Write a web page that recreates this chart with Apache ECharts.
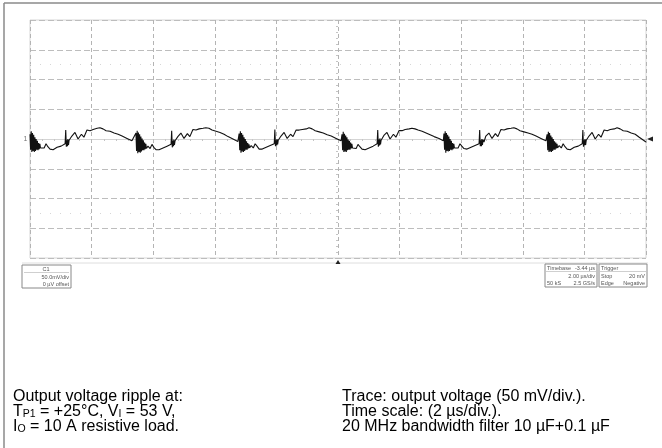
<!DOCTYPE html>
<html><head><meta charset="utf-8">
<script src="https://cdn.jsdelivr.net/npm/echarts@6/dist/echarts.min.js"></script>
<style>html,body{margin:0;padding:0;background:#fff}#c{width:662px;height:448px}</style>
</head><body><div id="c"></div>
<script>
// Axis settings: time (µs) and voltage (mV)
const xRange = [0, 20];          // 10 div x 2 µs/div
const xStep = 2;
const yRange = [-200, 200];      // 8 div x 50 mV/div
const yStep = 50;

// Trace, one switching cycle per array (time µs, voltage mV)
const c1t = [0.00,0.02,0.04,0.06,0.08,0.10,0.12,0.14,0.16,0.18,0.20,0.22,0.24,0.26,0.28,0.30,0.32,0.34,0.39,0.46,0.52,0.58,0.65,0.75,0.88,1.01,1.14,1.16,1.18,1.20,1.22,1.23,1.25,1.27,1.30,1.36,1.46,1.56,1.67,1.75,1.85,1.95,2.05,2.18,2.27,2.37,2.47,2.60,2.73,2.86,2.99,3.15,3.31];
const c1v = [8,-18,13,-22,10,-20,7,-22,3,-20,0,-18,-3,-19,-7,-17,-8,-15,-12,-15,-8,-13,-17,-18,-14,-12,-8,15,-13,-2,-12,0,-10,-2,-5,5,11,0,8,3,15,14,16,18,19,17,14,13,10,8,5,1,-3];

const c2t = [3.44,3.46,3.48,3.50,3.52,3.54,3.56,3.58,3.60,3.62,3.64,3.66,3.68,3.70,3.72,3.74,3.76,3.78,3.83,3.90,3.96,4.02,4.09,4.19,4.32,4.45,4.58,4.60,4.62,4.64,4.66,4.67,4.69,4.71,4.74,4.80,4.90,5.00,5.11,5.19,5.29,5.39,5.49,5.62,5.71,5.81,5.91,6.04,6.17,6.30,6.43,6.59,6.75];
const c2v = [10,-20,14,-24,11,-22,8,-23,4,-21,1,-19,-2,-19,-6,-17,-8,-16,-12,-16,-9,-14,-18,-18,-15,-12,-9,14,-14,-3,-12,-1,-10,-3,-5,4,10,1,9,4,16,15,17,18,19,18,15,13,11,8,4,0,-4];

const c3t = [6.79,6.81,6.83,6.85,6.87,6.89,6.91,6.93,6.95,6.97,6.99,7.01,7.03,7.05,7.07,7.09,7.11,7.13,7.18,7.25,7.31,7.37,7.44,7.54,7.67,7.80,7.93,7.95,7.97,7.99,8.01,8.02,8.04,8.06,8.09,8.15,8.25,8.35,8.46,8.54,8.64,8.74,8.84,8.97,9.06,9.16,9.26,9.39,9.52,9.65,9.78,9.94,10.10];
const c3v = [9,-19,13,-23,10,-21,7,-22,3,-20,0,-18,-4,-18,-7,-16,-9,-15,-11,-15,-8,-12,-17,-17,-14,-11,-8,16,-12,-2,-11,0,-9,-2,-4,5,11,1,8,4,15,15,16,17,19,17,14,12,10,7,5,1,-3];

const c4t = [10.13,10.15,10.17,10.19,10.21,10.23,10.25,10.27,10.29,10.31,10.33,10.35,10.37,10.39,10.41,10.43,10.45,10.47,10.52,10.59,10.65,10.71,10.78,10.88,11.01,11.14,11.27,11.29,11.31,11.33,11.35,11.36,11.38,11.40,11.43,11.49,11.59,11.69,11.80,11.88,11.98,12.08,12.18,12.31,12.40,12.50,12.60,12.73,12.86,12.99,13.12,13.28,13.42];
const c4v = [8,-19,12,-22,9,-21,6,-22,3,-19,-1,-18,-3,-18,-6,-16,-8,-15,-12,-16,-9,-13,-17,-18,-15,-12,-8,15,-13,-1,-11,1,-9,-2,-4,6,11,0,8,3,14,14,16,17,18,17,15,13,10,7,4,1,-3];

const c5t = [13.44,13.46,13.48,13.50,13.52,13.54,13.56,13.58,13.60,13.62,13.64,13.66,13.68,13.70,13.72,13.74,13.76,13.78,13.83,13.90,13.96,14.02,14.09,14.19,14.32,14.45,14.58,14.60,14.62,14.64,14.66,14.67,14.69,14.71,14.74,14.80,14.90,15.00,15.11,15.19,15.29,15.39,15.49,15.62,15.71,15.81,15.91,16.04,16.17,16.30,16.43,16.59,16.75];
const c5v = [9,-18,13,-23,10,-20,7,-21,4,-20,0,-18,-3,-19,-7,-17,-8,-15,-12,-15,-8,-12,-16,-17,-14,-11,-8,15,-12,-2,-12,0,-10,-1,-5,5,10,1,9,4,16,15,17,18,19,17,14,12,10,8,5,1,-3];

const c6t = [16.79,16.81,16.83,16.85,16.87,16.89,16.91,16.93,16.95,16.97,16.99,17.01,17.03,17.05,17.07,17.09,17.11,17.13,17.18,17.25,17.31,17.37,17.44,17.54,17.67,17.80,17.93,17.95,17.97,17.99,18.01,18.02,18.04,18.06,18.09,18.15,18.25,18.35,18.46,18.54,18.64,18.74,18.84,18.97,19.06,19.16,19.26,19.39,19.52,19.65,19.78,20.00];
const c6v = [8,-19,12,-22,10,-21,6,-22,3,-20,0,-18,-4,-18,-6,-16,-8,-15,-11,-15,-8,-13,-17,-18,-14,-12,-8,15,-13,-2,-11,0,-10,-2,-4,5,11,0,8,3,15,14,16,17,19,17,14,13,10,8,3,-5];

// Scope annotation texts
const chLabel = ['C1', '50.0mV/div', '0 µV offset'];
const tbLabel = ['Timebase', '-3.44 µs', '2.00 µs/div', '50 kS', '2.5 GS/s'];
const trLabel = ['Trigger', 'Stop', '20 mV', 'Edge', 'Negative'];

const cycles = [[c1t,c1v],[c2t,c2v],[c3t,c3v],[c4t,c4v],[c5t,c5v],[c6t,c6v]];
const trace = [];
cycles.forEach(([ts, vs]) => ts.forEach((t, i) => trace.push([t, vs[i]])));

const FONT = '"Liberation Sans", Arial, sans-serif';
const small = (x, y, txt, align) => ({type:'text', x, y, silent:true,
  style:{text:txt, fontSize:5.5, fontFamily:FONT, fill:'#555', align:align||'left', verticalAlign:'middle'}});
const hline = (x1, x2, y, c, w) => ({type:'line', silent:true, shape:{x1, y1:y, x2, y2:y}, style:{stroke:c, lineWidth:w||1}});

const rich = {
  m:{fontSize:16, fontFamily:FONT, color:'#111', lineHeight:15},
  s:{fontSize:10.5, fontFamily:FONT, color:'#111', lineHeight:15, verticalAlign:'bottom'}
};

const chart = echarts.init(document.getElementById('c'), null, {renderer:'canvas'});
chart.setOption({
  animation:false,
  grid:{left:30, right:16, top:20, bottom:190, show:true, borderColor:'#d6d6d6', borderWidth:1},
  xAxis:[{type:'value', min:xRange[0], max:xRange[1], interval:xStep,
    axisLine:{show:true, onZero:true, lineStyle:{color:'#d4d4d4', width:1}},
    axisTick:{show:true, length:3, lineStyle:{color:'#bbb'}},
    minorTick:{show:true, splitNumber:5, length:2, lineStyle:{color:'#c4c4c4'}},
    axisLabel:{show:false},
    splitLine:{show:true, lineStyle:{color:'#b4b4b4', type:[4,3], width:1}}}],
  yAxis:[{type:'value', min:yRange[0], max:yRange[1], interval:yStep,
    axisLine:{show:false}, axisTick:{show:false}, axisLabel:{show:false},
    splitLine:{show:true, lineStyle:{color:'#bdbdbd', type:[6,3], width:1}}},
    {type:'value', min:yRange[0], max:yRange[1], interval:yStep, position:'left', offset:-308,
    axisLine:{show:false, onZero:false},
    axisTick:{show:true, length:3, lineStyle:{color:'#bbb'}},
    minorTick:{show:true, splitNumber:5, length:2, lineStyle:{color:'#c4c4c4'}},
    axisLabel:{show:false}, splitLine:{show:false}}],
  series:[{
    type:'line', data:trace, showSymbol:false, symbol:'none', sampling:null,
    lineStyle:{color:'#111', width:1.1}, z:5, silent:true,
    markLine:{silent:true, symbol:'none', label:{show:false},
      lineStyle:{color:'#d6d6d6', type:[1,9], width:1},
      data:[{yAxis:125},{yAxis:-125}]},
    markPoint:{silent:true, data:[
      {coord:[xRange[1],0], symbol:'triangle', symbolSize:[5,6], symbolRotate:90, symbolOffset:[4,0], itemStyle:{color:'#222'}, label:{show:false}},
      {coord:[10,yRange[0]], symbol:'triangle', symbolSize:[5,4], symbolOffset:[0,4], itemStyle:{color:'#222'}, label:{show:false}},
      {coord:[xRange[0],0], symbol:'rect', symbolSize:1, itemStyle:{color:'rgba(0,0,0,0)'},
        label:{show:true, position:'left', distance:2, formatter:'1', fontSize:7, color:'#777', fontFamily:FONT}}
    ]}
  }],
  graphic:[
    {type:'line', silent:true, shape:{x1:4, y1:3, x2:4, y2:448}, style:{stroke:'#8a8a8a', lineWidth:1.5}},
    {type:'line', silent:true, shape:{x1:4, y1:3, x2:662, y2:3}, style:{stroke:'#8a8a8a', lineWidth:1.5}},
    hline(22, 648, 263, '#dedede'),
    // channel box
    {type:'rect', silent:true, shape:{x:22, y:265, width:49, height:23}, style:{fill:'#fff', stroke:'#888', lineWidth:1}},
    hline(24, 69, 272.5, '#cfcfcf'),
    small(46, 269, chLabel[0], 'center'),
    small(69, 277, chLabel[1], 'right'),
    small(69, 284, chLabel[2], 'right'),
    // timebase box
    {type:'rect', silent:true, shape:{x:545, y:264, width:52, height:23}, style:{fill:'#fff', stroke:'#888', lineWidth:1}},
    hline(546, 596, 271.5, '#cfcfcf'),
    small(547, 268, tbLabel[0]), small(595, 268, tbLabel[1], 'right'),
    small(595, 276, tbLabel[2], 'right'),
    small(547, 283, tbLabel[3]), small(595, 283, tbLabel[4], 'right'),
    // trigger box
    {type:'rect', silent:true, shape:{x:599, y:264, width:48, height:23}, style:{fill:'#fff', stroke:'#888', lineWidth:1}},
    hline(600, 646, 271.5, '#cfcfcf'),
    small(601, 268, trLabel[0]),
    small(601, 276, trLabel[1]), small(645, 276, trLabel[2], 'right'),
    small(601, 283, trLabel[3]), small(645, 283, trLabel[4], 'right'),
    // captions
    {type:'text', left:13, top:389, silent:true, style:{
      rich, text:'{m|Output voltage ripple at:}\n{m|T}{s|P1}{m| = +25°C, V}{s|I}{m| = 53 V,}\n{m|I}{s|O}{m| = 10 A resistive load.}'}},
    {type:'text', left:342, top:389, silent:true, style:{
      rich, text:'{m|Trace: output voltage (50 mV/div.).}\n{m|Time scale: (2 µs/div.).}\n{m|20 MHz bandwidth filter 10 µF+0.1 µF}'}}
  ]
});
</script>
</body></html>
